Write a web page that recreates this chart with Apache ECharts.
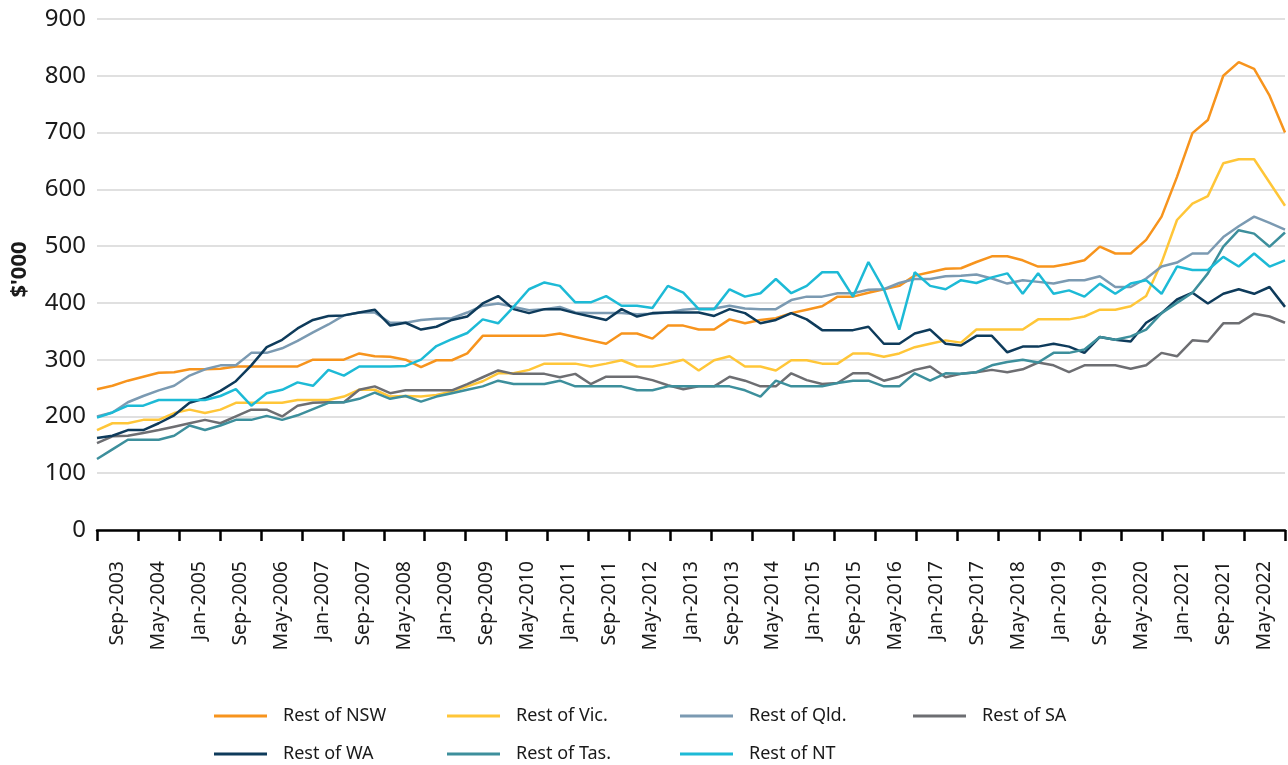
<!DOCTYPE html>
<html>
<head>
<meta charset="utf-8">
<script src="https://cdn.jsdelivr.net/npm/echarts@6/dist/echarts.min.js"></script>
<style>
html,body{margin:0;padding:0;background:#fff;}
#chart{width:1288px;height:765px;}
</style>
</head>
<body>
<div id="chart"></div>
<script>
// Quarterly categories (Sep-2003 .. Dec-2022)
var quarters = [
 'Sep-2003','Dec-2003','Mar-2004','Jun-2004','Sep-2004','Dec-2004','Mar-2005','Jun-2005','Sep-2005','Dec-2005',
 'Mar-2006','Jun-2006','Sep-2006','Dec-2006','Mar-2007','Jun-2007','Sep-2007','Dec-2007','Mar-2008','Jun-2008',
 'Sep-2008','Dec-2008','Mar-2009','Jun-2009','Sep-2009','Dec-2009','Mar-2010','Jun-2010','Sep-2010','Dec-2010',
 'Mar-2011','Jun-2011','Sep-2011','Dec-2011','Mar-2012','Jun-2012','Sep-2012','Dec-2012','Mar-2013','Jun-2013',
 'Sep-2013','Dec-2013','Mar-2014','Jun-2014','Sep-2014','Dec-2014','Mar-2015','Jun-2015','Sep-2015','Dec-2015',
 'Mar-2016','Jun-2016','Sep-2016','Dec-2016','Mar-2017','Jun-2017','Sep-2017','Dec-2017','Mar-2018','Jun-2018',
 'Sep-2018','Dec-2018','Mar-2019','Jun-2019','Sep-2019','Dec-2019','Mar-2020','Jun-2020','Sep-2020','Dec-2020',
 'Mar-2021','Jun-2021','Sep-2021','Dec-2021','Mar-2022','Jun-2022','Sep-2022','Dec-2022'
];
// Axis tick labels (every 8 months)
var tickLabels = [
 'Sep-2003','May-2004','Jan-2005','Sep-2005','May-2006','Jan-2007','Sep-2007','May-2008','Jan-2009','Sep-2009',
 'May-2010','Jan-2011','Sep-2011','May-2012','Jan-2013','Sep-2013','May-2014','Jan-2015','Sep-2015','May-2016',
 'Jan-2017','Sep-2017','May-2018','Jan-2019','Sep-2019','May-2020','Jan-2021','Sep-2021','May-2022'
];
var yTicks = [0,100,200,300,400,500,600,700,800,900];

var restNSW = [248,254,263,270,277,278,283,283,284,288,
 288,288,288,288,300,300,300,311,306,305,
 300,287,299,299,311,342,342,342,342,342,
 346,340,334,328,346,346,337,360,360,353,
 353,371,364,370,373,382,388,394,411,411,
 418,424,430,448,454,460,461,472,482,482,
 475,464,464,469,475,499,487,487,511,552,
 622,699,722,800,824,812,765,700];
var restVic = [176,188,188,194,194,206,212,206,212,224,
 224,224,224,229,229,229,235,247,247,235,
 236,235,238,244,253,262,276,276,282,293,
 293,293,288,293,299,288,288,293,300,281,
 299,306,288,288,281,299,299,293,293,311,
 311,305,311,322,328,334,330,353,353,353,
 353,371,371,371,376,388,388,394,412,471,
 546,575,588,646,653,653,612,571];
var restQld = [200,207,225,236,246,254,272,283,290,290,
 312,312,320,333,348,362,378,383,383,365,
 365,370,372,373,383,395,399,393,387,389,
 393,383,382,382,382,380,381,383,388,390,
 390,395,390,389,389,405,411,411,417,417,
 423,424,435,442,442,447,448,450,443,434,
 440,437,434,440,440,447,428,428,443,464,
 471,487,487,516,535,552,541,529];
var restSA = [153,165,166,171,176,182,188,194,188,200,
 212,212,200,219,224,225,225,247,253,241,
 246,246,246,246,257,269,281,275,275,275,
 269,275,257,270,270,270,264,255,248,253,
 253,270,263,253,253,276,264,257,259,276,
 276,263,270,282,288,269,275,278,282,278,
 283,295,290,278,290,290,290,284,290,312,
 306,334,332,364,364,381,376,365];
var restWA = [162,166,176,176,188,202,224,232,245,262,
 290,322,335,355,370,377,378,383,388,360,
 365,353,358,370,376,399,412,389,382,389,
 389,382,376,370,389,376,382,383,383,383,
 377,389,382,364,370,382,371,352,352,352,
 358,328,328,346,353,328,325,342,342,313,
 323,323,328,323,312,340,335,332,365,382,
 406,418,399,416,424,416,428,393];
var restTas = [125,142,159,159,159,166,184,176,184,194,
 194,201,194,202,213,224,225,231,242,231,
 236,226,235,241,247,253,263,257,257,257,
 263,253,253,253,253,246,246,253,253,253,
 253,253,246,235,263,253,253,253,259,263,
 263,253,253,276,263,276,275,278,290,296,
 300,295,312,312,318,340,335,341,353,382,
 400,418,452,499,528,522,499,524];
var restNT = [198,207,219,219,229,229,229,229,236,248,
 219,241,247,260,254,282,272,288,288,288,
 289,300,324,336,347,371,364,393,424,436,
 430,401,401,412,395,395,391,430,418,389,
 389,424,411,417,442,417,430,454,454,411,
 472,424,353,454,430,424,440,435,445,452,
 416,452,416,422,411,434,416,434,440,416,
 464,458,458,481,464,487,464,475];

var seriesNames = ['Rest of NSW','Rest of Vic.','Rest of Qld.','Rest of SA','Rest of WA','Rest of Tas.','Rest of NT'];
var seriesData = [restNSW, restVic, restQld, restSA, restWA, restTas, restNT];
var seriesColors = ['#F7941D','#FFC638','#7B9AB2','#6D6E72','#0E3B5B','#3D8F9C','#1DBAD6'];

var FONT = 'Noto Sans';
var colLeft = [214, 447, 680, 913];
var rowCenter = [716, 754];

var legends = seriesNames.map(function(n, k){
  return {
    data: [n],
    left: colLeft[k % 4],
    top: rowCenter[Math.floor(k / 4)] - 11,
    padding: 0,
    icon: 'rect',
    itemWidth: 53,
    itemHeight: 3,
    selectedMode: false,
    textStyle: {fontFamily: FONT, fontSize: 18, color: '#1a1a1a', lineHeight: 22, padding: [0,0,0,11]}
  };
});

var chart = echarts.init(document.getElementById('chart'), null, {renderer: 'canvas'});
chart.setOption({
  backgroundColor: '#ffffff',
  animation: false,
  textStyle: {fontFamily: FONT},
  grid: {left: 97, right: 3, top: 19, bottom: 235, containLabel: false},
  legend: legends,
  xAxis: [
    {
      type: 'category', data: quarters, boundaryGap: false, position: 'bottom',
      axisLine: {show: false}, axisTick: {show: false}, axisLabel: {show: false}, splitLine: {show: false}
    },
    {
      type: 'category', data: tickLabels, boundaryGap: true, position: 'bottom',
      axisLine: {show: true, lineStyle: {color: '#000', width: 2.5}},
      axisTick: {show: true, length: 11, interval: 0, lineStyle: {color: '#000', width: 2.5}},
      axisLabel: {interval: 0, rotate: 90, fontFamily: FONT, fontSize: 19.5, color: '#1a1a1a', margin: 31},
      splitLine: {show: false}
    }
  ],
  yAxis: {
    type: 'value', min: yTicks[0], max: yTicks[yTicks.length - 1], interval: 100,
    name: "$'000", nameLocation: 'middle', nameRotate: 90, nameGap: 66,
    nameTextStyle: {fontFamily: FONT, fontSize: 22, fontWeight: 'bold', color: '#1a1a1a', padding: [0,0,0,10]},
    axisLine: {show: false}, axisTick: {show: false},
    axisLabel: {fontFamily: FONT, fontSize: 24, color: '#1a1a1a', margin: 11},
    splitLine: {show: true, lineStyle: {color: '#E0E0E0', width: 2}}
  },
  series: seriesNames.map(function(n, k){
    return {
      name: n, type: 'line', xAxisIndex: 0, data: seriesData[k],
      symbol: 'none', smooth: false,
      lineStyle: {color: seriesColors[k], width: 2.5},
      itemStyle: {color: seriesColors[k]}
    };
  })
});
</script>
</body>
</html>
